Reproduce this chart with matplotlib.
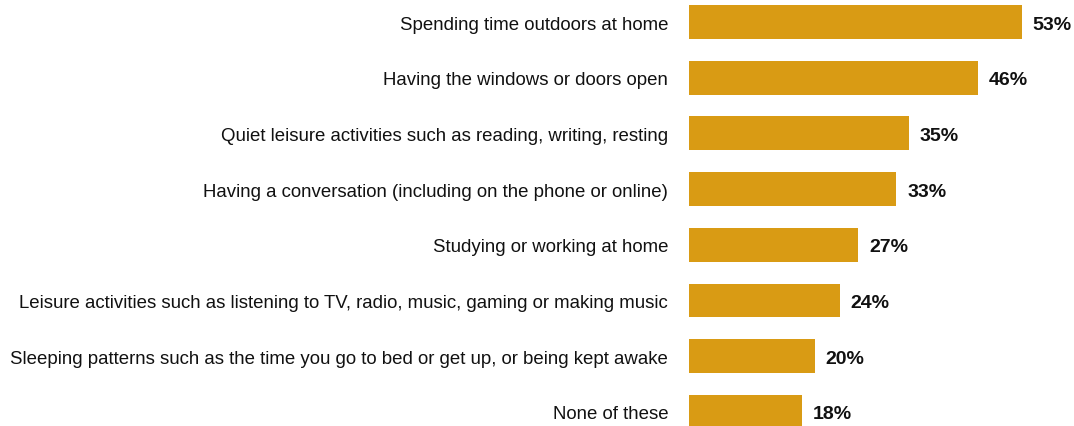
import matplotlib
matplotlib.use("Agg")
import matplotlib.pyplot as plt

categories = [
    "Spending time outdoors at home",
    "Having the windows or doors open",
    "Quiet leisure activities such as reading, writing, resting",
    "Having a conversation (including on the phone or online)",
    "Studying or working at home",
    "Leisure activities such as listening to TV, radio, music, gaming or making music",
    "Sleeping patterns such as the time you go to bed or get up, or being kept awake",
    "None of these",
]
values = [53, 46, 35, 33, 27, 24, 20, 18]
value_labels = [f"{v}%" for v in values]

bar_color = "#D99B14"

plt.rcParams["font.family"] = ["Liberation Sans", "DejaVu Sans"]

fig = plt.figure(figsize=(10.74, 4.27), dpi=100)
ax = fig.add_axes([689 / 1074, 0, 1 - 689 / 1074, 1])

pos = list(range(len(categories)))
ax.barh(pos, values, height=0.61, color=bar_color)
ax.set_xlim(0, 61.33)
ax.set_ylim(7.253, -0.413)

ax.set_yticks(pos)
ax.set_yticklabels(categories, fontsize=13.4, color="#111111")
ax.tick_params(axis="y", length=0, pad=15)
ax.set_xticks([])
for s in ax.spines.values():
    s.set_visible(False)

for p, v, lab in zip(pos, values, value_labels):
    ax.annotate(lab, xy=(v, p), xytext=(8, -1.5), textcoords="offset points",
                ha="left", va="center", fontsize=14, fontweight="bold",
                color="#111111")

fig.savefig("out.png", dpi=100, facecolor="white")
